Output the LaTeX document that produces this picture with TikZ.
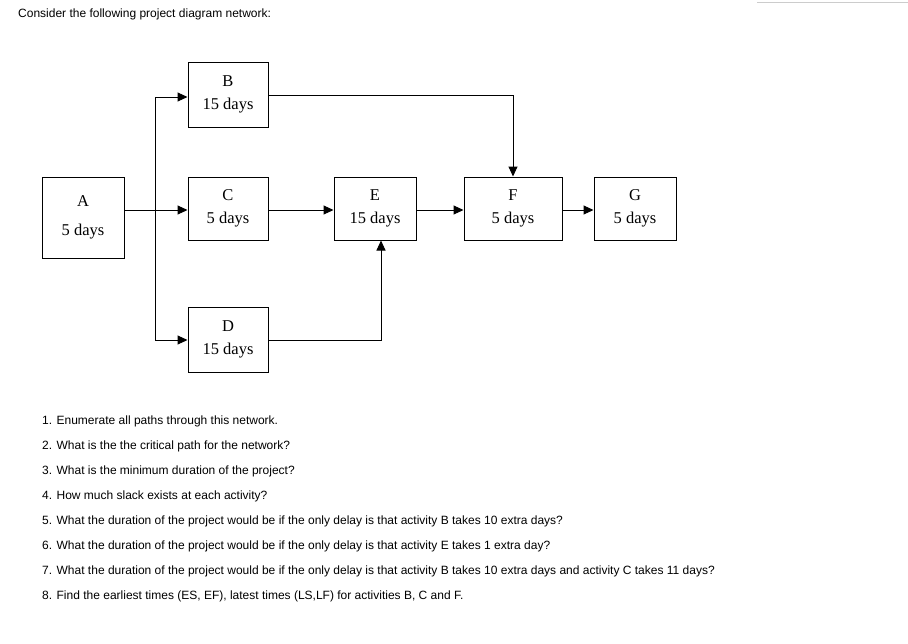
\documentclass[tikz,border=0pt]{standalone}
\usepackage{fontspec}
\setmainfont{Liberation Serif}
\newfontfamily\qsans{Liberation Sans}
\usetikzlibrary{arrows.meta}
\begin{document}
\begin{tikzpicture}[x=1pt,y=-1pt,
  box/.style={draw,line width=1pt,minimum width=#1,inner sep=0pt,align=center,font=\fontsize{16.5}{23}\selectfont},
  arr/.style={line width=1pt,-{Triangle[length=10pt,width=9pt]}},
  ln/.style={line width=1pt},
  q/.style={anchor=west,inner sep=0pt,font=\qsans\fontsize{12}{14}\selectfont}]
\useasboundingbox (0,0) rectangle (908,643);
\draw[gray!40,line width=1pt] (757,2) -- (908,2);
\node[q] (t) at (18,14) {Consider the following project diagram network:};
\node[box=82pt,minimum height=81pt] (A) at (83,217.5) {A\\[6pt]5 days};
\node[box=80pt,minimum height=65pt] (B) at (228,94.5) {B\\15 days};
\node[box=80pt,minimum height=63pt] (C) at (228,208.5) {C\\5 days};
\node[box=82pt,minimum height=63pt] (E) at (375,208.5) {E\\15 days};
\node[box=98pt,minimum height=63pt] (F) at (513,208.5) {F\\5 days};
\node[box=82pt,minimum height=63pt] (G) at (635,208.5) {G\\5 days};
\node[box=80pt,minimum height=65pt] (D) at (228,339.5) {D\\15 days};
\coordinate (j1) at (155,97);
\coordinate (j2) at (155,340);
\draw[arr] (A.east |- 0,210) -- (C.west |- 0,210);
\draw[ln] (j1) -- (j2);
\draw[arr] (j1) -- (B.west |- j1);
\draw[arr] (j2) -- (D.west |- j2);
\draw[arr] (C.east |- 0,210) -- (E.west |- 0,210);
\draw[arr] (E.east |- 0,210) -- (F.west |- 0,210);
\draw[arr] (F.east |- 0,210) -- (G.west |- 0,210);
\draw[arr] (B.east |- 0,95) -| (F.north);
\draw[arr] (D.east |- 0,340) -| (381,0 |- E.south);
\foreach \i/\s in {0/{1. Enumerate all paths through this network.},
 1/{2. What is the the critical path for the network?},
 2/{3. What is the minimum duration of the project?},
 3/{4. How much slack exists at each activity?},
 4/{5. What the duration of the project would be if the only delay is that activity B takes 10 extra days?},
 5/{6. What the duration of the project would be if the only delay is that activity E takes 1 extra day?},
 6/{7. What the duration of the project would be if the only delay is that activity B takes 10 extra days and activity C takes 11 days?},
 7/{8. Find the earliest times (ES, EF), latest times (LS,LF) for activities B, C and F.}}
 \node[q] (q\i) at (42,421+25*\i) {\s};
\end{tikzpicture}
\end{document}
